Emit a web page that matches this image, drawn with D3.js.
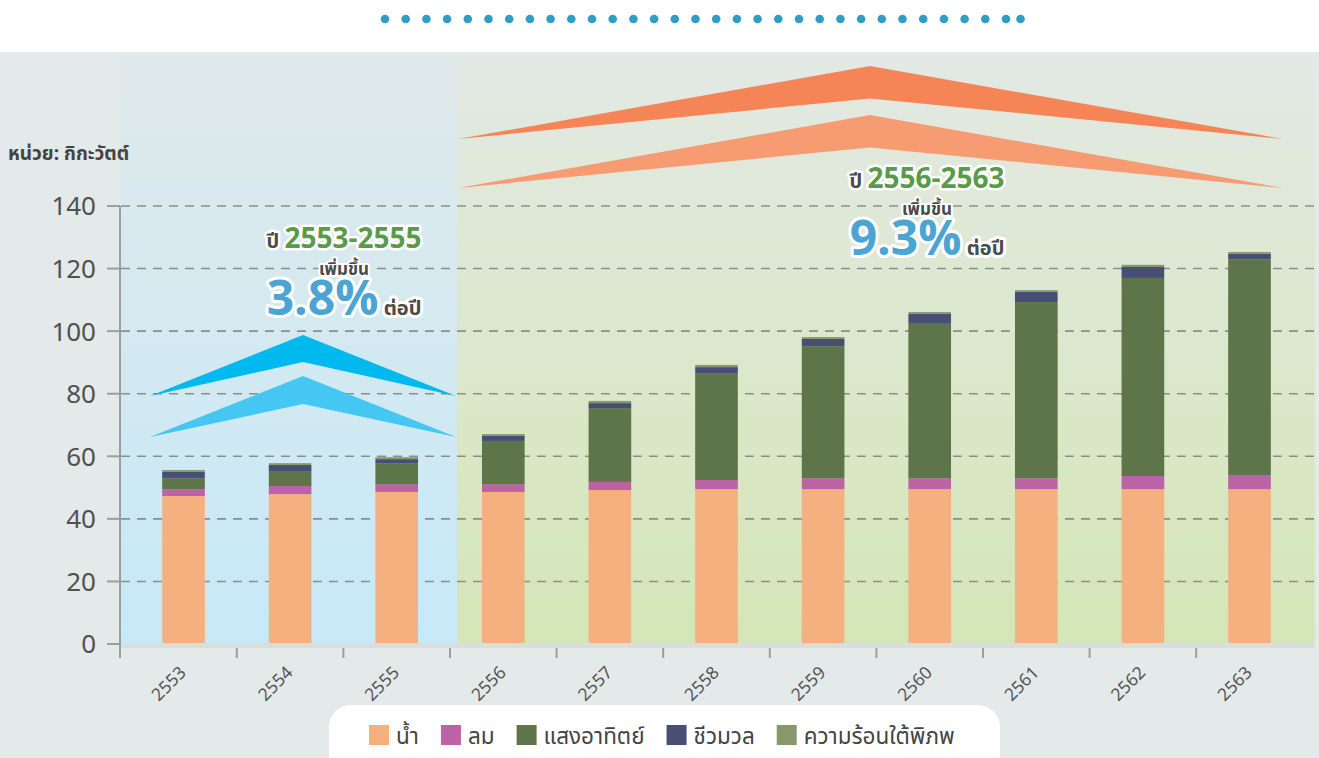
<!DOCTYPE html>
<html>
<head>
<meta charset="utf-8">
<script src="https://cdn.jsdelivr.net/npm/d3@7"></script>
<style>
  body { margin: 0; background: #fff; }
  svg { display: block; font-family: 'Noto Sans Thai', 'Noto Sans', 'DejaVu Sans', sans-serif; }
</style>
</head>
<body>
<svg id="chart" width="1319" height="758"></svg>
<script>
// data (gigawatt)
var years = ['2553', '2554', '2555', '2556', '2557', '2558', '2559', '2560', '2561', '2562', '2563']
var hydro = [47.3, 47.9, 48.6, 48.6, 49.2, 49.5, 49.5, 49.5, 49.5, 49.5, 49.5]
var wind = [2.2, 2.6, 2.5, 2.5, 2.6, 2.9, 3.5, 3.5, 3.5, 4.2, 4.5]
var solar = [3.5, 4.8, 6.7, 13.8, 23.6, 34.2, 42.2, 49.6, 56.3, 63.3, 69.0]
var biomass = [2.0, 1.9, 1.3, 1.6, 1.6, 1.9, 2.3, 2.9, 3.2, 3.5, 1.7]
var geothermal = [0.6, 0.6, 0.6, 0.6, 0.7, 0.7, 0.6, 0.6, 0.6, 0.7, 0.6]

var seriesKeys = ['hydro', 'wind', 'solar', 'biomass', 'geothermal']
var seriesNames = ['น้ำ', 'ลม', 'แสงอาทิตย์', 'ชีวมวล', 'ความร้อนใต้พิภพ']
var seriesColors = ['#f5b07f', '#bc62a6', '#5e7449', '#474f74', '#87996b']
var yTicks = [0, 20, 40, 60, 80, 100, 120, 140]

var rows = years.map(function(y, i) {
  return { year: y, hydro: hydro[i], wind: wind[i], solar: solar[i], biomass: biomass[i], geothermal: geothermal[i] }
})

var svg = d3.select('#chart')

var x = d3.scaleBand().domain(years).range([130.2, 1302.8]).paddingInner(0.6).paddingOuter(0.3)
var y = d3.scaleLinear().domain([0, 140]).range([644, 206])

// gradients for the two period panels
var defs = svg.append('defs')
var gBlue = defs.append('linearGradient').attr('id', 'gBlue').attr('x1', 0).attr('y1', 0).attr('x2', 0).attr('y2', 1)
gBlue.append('stop').attr('offset', '0%').attr('stop-color', '#e0e9ea')
gBlue.append('stop').attr('offset', '100%').attr('stop-color', '#c6e9f8')
var gGreen = defs.append('linearGradient').attr('id', 'gGreen').attr('x1', 0).attr('y1', 0).attr('x2', 0).attr('y2', 1)
gGreen.append('stop').attr('offset', '0%').attr('stop-color', '#e3e9e4')
gGreen.append('stop').attr('offset', '100%').attr('stop-color', '#d4e6b6')

// backgrounds
svg.append('rect').attr('x', 0).attr('y', 52).attr('width', 1319).attr('height', 706).attr('fill', '#e4eae9')
svg.append('rect').attr('x', 120).attr('y', 55).attr('width', 337).attr('height', 589).attr('fill', 'url(#gBlue)')
svg.append('rect').attr('x', 457).attr('y', 55).attr('width', 858).attr('height', 589).attr('fill', 'url(#gGreen)')

// dotted ornament at top
var dots = d3.range(32)
svg.append('g').selectAll('circle')
  .data(dots)
  .enter().append('circle')
  .attr('cx', function(d) { return d < 31 ? 385 + d * 20.7 : 385 + 30 * 20.7 + 14.5 })
  .attr('cy', 19)
  .attr('r', 4.3)
  .attr('fill', '#2e9dc7')

// grid lines
svg.append('g').selectAll('line.grid')
  .data(yTicks.filter(function(d) { return d > 0 }))
  .enter().append('line')
  .attr('x1', 121).attr('x2', 1315)
  .attr('y1', function(d) { return y(d) }).attr('y2', function(d) { return y(d) })
  .attr('stroke', '#8a8f8c').attr('stroke-width', 1.6).attr('stroke-dasharray', '9,7')

// arrows (decoration)
function chevron(lx, rx, cx, yTip, yApex, yInner) {
  return 'M' + lx + ',' + yTip + 'L' + cx + ',' + yApex + 'L' + rx + ',' + yTip + 'L' + cx + ',' + yInner + 'Z'
}
svg.append('path').attr('d', chevron(150, 456, 303, 396, 335, 362)).attr('fill', '#00baef')
svg.append('path').attr('d', chevron(150, 456, 303, 437, 376, 404)).attr('fill', '#45c7f3')
svg.append('path').attr('d', chevron(458, 1283, 870, 139, 66, 98.5)).attr('fill', '#f58557')
svg.append('path').attr('d', chevron(458, 1283, 870, 188, 115, 147.5)).attr('fill', '#f79b72')

// stacked bars
var stacked = d3.stack().keys(seriesKeys)(rows)
svg.append('g').selectAll('g')
  .data(stacked)
  .enter().append('g')
  .attr('fill', function(d, i) { return seriesColors[i] })
  .selectAll('rect')
  .data(function(d) { return d })
  .enter().append('rect')
  .attr('x', function(d) { return x(d.data.year) })
  .attr('y', function(d) { return y(d[1]) })
  .attr('height', function(d) { return y(d[0]) - y(d[1]) })
  .attr('width', x.bandwidth())

// base strip and axes
svg.append('rect').attr('x', 120).attr('y', 643).attr('width', 1195).attr('height', 5).attr('fill', '#d9dddd')
svg.append('line').attr('x1', 120).attr('x2', 120).attr('y1', 206).attr('y2', 658)
  .attr('stroke', '#9a9e9e').attr('stroke-width', 2)

var yAxis = svg.append('g')
yAxis.selectAll('line')
  .data(yTicks)
  .enter().append('line')
  .attr('x1', 107).attr('x2', 120)
  .attr('y1', function(d) { return y(d) }).attr('y2', function(d) { return y(d) })
  .attr('stroke', '#9a9e9e').attr('stroke-width', 2)
yAxis.selectAll('text')
  .data(yTicks)
  .enter().append('text')
  .attr('x', 96)
  .attr('y', function(d) { return y(d) })
  .attr('dy', '0.36em')
  .attr('text-anchor', 'end')
  .attr('fill', '#505252')
  .style('font-size', '26px')
  .text(function(d) { return d })

// x ticks between bars
var xAxis = svg.append('g')
xAxis.selectAll('line')
  .data(years.slice(0, -1))
  .enter().append('line')
  .attr('x1', function(d) { return x(d) + x.bandwidth() / 2 + x.step() / 2 })
  .attr('x2', function(d) { return x(d) + x.bandwidth() / 2 + x.step() / 2 })
  .attr('y1', 648).attr('y2', 658)
  .attr('stroke', '#9a9e9e').attr('stroke-width', 2)
xAxis.selectAll('text')
  .data(years)
  .enter().append('text')
  .attr('transform', function(d) {
    return 'translate(' + (x(d) + x.bandwidth() / 2 - 5) + ',665) rotate(-45)'
  })
  .attr('dy', '0.7em')
  .attr('text-anchor', 'end')
  .attr('fill', '#555')
  .style('font-size', '17.5px')
  .text(function(d) { return d })

// unit label
svg.append('text').attr('x', 8).attr('y', 160)
  .attr('fill', '#444').style('font-size', '19px').style('font-weight', 'bold')
  .text('หน่วย: กิกะวัตต์')

// growth annotations
function annotation(cx, yTop, period, pct) {
  var g = svg.append('g')
    .style('paint-order', 'stroke').attr('stroke', '#fff').attr('stroke-linejoin', 'round')
  var t1 = g.append('text').attr('x', cx).attr('y', yTop).attr('text-anchor', 'middle')
    .attr('stroke-width', 5).style('font-weight', 'bold')
  t1.append('tspan').attr('fill', '#4a4a4a').style('font-size', '20px').text('ปี ')
  t1.append('tspan').attr('fill', '#5c9a4b').style('font-size', '28px').text(period)
  g.append('text').attr('x', cx).attr('y', yTop + 27).attr('text-anchor', 'middle')
    .attr('stroke-width', 4).attr('fill', '#4a4a4a')
    .style('font-size', '17px').style('font-weight', 'bold')
    .text('เพิ่มขึ้น')
  var t3 = g.append('text').attr('x', cx).attr('y', yTop + 67).attr('text-anchor', 'middle')
    .attr('stroke-width', 6).style('font-weight', 'bold')
  t3.append('tspan').attr('fill', '#4ba4d4').style('font-size', '48px').text(pct)
  t3.append('tspan').attr('fill', '#4a4a4a').style('font-size', '20px').text(' ต่อปี')
}
annotation(344, 248, '2553-2555', '3.8%')
annotation(927, 188, '2556-2563', '9.3%')

// legend
svg.append('rect').attr('x', 329).attr('y', 705).attr('width', 671).attr('height', 80).attr('rx', 22)
  .attr('fill', '#fff')
var lx = 369
seriesNames.forEach(function(name, i) {
  svg.append('rect').attr('x', lx).attr('y', 725).attr('width', 20).attr('height', 20)
    .attr('fill', seriesColors[i])
  var t = svg.append('text').attr('x', lx + 27).attr('y', 744)
    .attr('fill', '#444').style('font-size', '22.5px')
    .text(name)
  lx = lx + 27 + t.node().getComputedTextLength() + 22
})
</script>
</body>
</html>
